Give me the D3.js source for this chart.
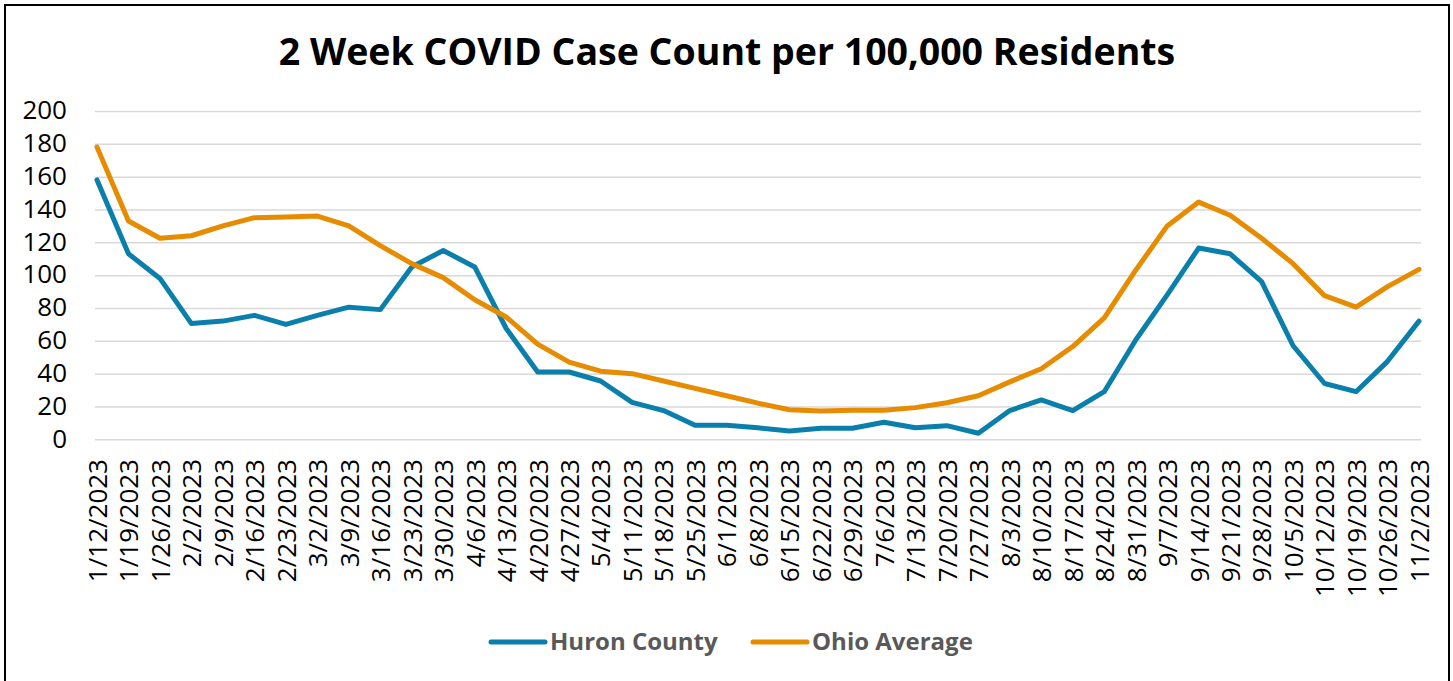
<!doctype html>
<html>
<head>
<script src="https://d3js.org/d3.v7.min.js"></script>
<style>
body { margin: 0; background: #fff; }
svg { display: block; font-family: "Open Sans", sans-serif; }
</style>
</head>
<body>
<svg></svg>
<script>

// weekly report dates
var dates = ["1/12/2023","1/19/2023","1/26/2023","2/2/2023","2/9/2023","2/16/2023","2/23/2023",
	"3/2/2023","3/9/2023","3/16/2023","3/23/2023","3/30/2023","4/6/2023","4/13/2023","4/20/2023",
	"4/27/2023","5/4/2023","5/11/2023","5/18/2023","5/25/2023","6/1/2023","6/8/2023","6/15/2023",
	"6/22/2023","6/29/2023","7/6/2023","7/13/2023","7/20/2023","7/27/2023","8/3/2023","8/10/2023",
	"8/17/2023","8/24/2023","8/31/2023","9/7/2023","9/14/2023","9/21/2023","9/28/2023","10/5/2023",
	"10/12/2023","10/19/2023","10/26/2023","11/2/2023"];

var huron = [158, 113, 98, 70.5, 72, 75.5, 70, 75.5, 80.5, 79, 105, 115, 105, 67.5, 41, 41,
	35.5, 22.5, 17.5, 8.5, 8.5, 7, 5, 6.7, 6.7, 10.4, 7, 8.3, 3.7, 17.5, 24, 17.5, 29,
	60.5, 88, 116.5, 113, 96, 57, 34, 29, 47.5, 72];

var ohio = [178, 133, 122.5, 124, 130, 135, 135.5, 136, 130, 118, 107, 98.5, 85, 74.5, 58,
	47, 41.5, 40, 35.5, 31, 26.5, 22, 18, 17.3, 17.7, 17.7, 19.3, 22.3, 26.5, 35, 43,
	56.5, 74, 103, 130, 144.5, 136.5, 122.5, 107, 87.5, 80.5, 93, 103.5];

var yTicks = [0, 20, 40, 60, 80, 100, 120, 140, 160, 180, 200];

var seriesNames = ["Huron County", "Ohio Average"];
var seriesColors = ["#0b7fac", "#e78b00"];

var W = 1453, H = 681;
var svg = d3.select("svg").attr("width", W).attr("height", H);

svg.append("rect")
	.attr("x", 0).attr("y", 0).attr("width", W).attr("height", H)
	.attr("fill", "#fff");

// outer border
svg.append("rect")
	.attr("x", 5).attr("y", 5).attr("width", 1444).attr("height", 690)
	.attr("fill", "none").attr("stroke", "#000").attr("stroke-width", 2);

svg.append("text")
	.attr("x", 727).attr("y", 65)
	.attr("text-anchor", "middle")
	.attr("font-size", 37.5).attr("font-weight", 700)
	.attr("fill", "#000")
	.text("2 Week COVID Case Count per 100,000 Residents");

var x = d3.scalePoint().domain(dates).range([97, 1419]).padding(0);
var y = d3.scaleLinear().domain([0, 200]).range([439.3, 111]);

// gridlines
var grid = svg.append("g")
	.attr("transform", "translate(95,0)")
	.call(d3.axisLeft(y).tickValues(yTicks).tickSize(-1326).tickFormat(""));
grid.select(".domain").remove();
grid.selectAll("line").attr("stroke", "#d9d9d9").attr("stroke-width", 1.5);

// y labels
var yAxis = svg.append("g")
	.attr("transform", "translate(67,0)")
	.call(d3.axisLeft(y).tickValues(yTicks).tickSize(0).tickPadding(0));
yAxis.select(".domain").remove();
yAxis.selectAll("text")
	.attr("font-family", "Open Sans")
	.attr("font-size", 26)
	.attr("fill", "#000")
	.attr("dy", "0.3em");

// x labels
var xAxis = svg.append("g")
	.attr("transform", "translate(0,459)")
	.call(d3.axisBottom(x).tickSize(0).tickPadding(0));
xAxis.select(".domain").remove();
xAxis.selectAll("text")
	.attr("font-family", "Open Sans")
	.attr("font-size", 26)
	.attr("fill", "#000")
	.attr("text-anchor", "end")
	.attr("transform", "rotate(-90)")
	.attr("x", 0).attr("y", 0)
	.attr("dy", "0.36em");

var line = d3.line()
	.x((d, i) => x(dates[i]))
	.y(d => y(d));

[huron, ohio].forEach(function(s, k) {
	svg.append("path")
		.datum(s)
		.attr("d", line)
		.attr("fill", "none")
		.attr("stroke", seriesColors[k])
		.attr("stroke-width", 5)
		.attr("stroke-linejoin", "round")
		.attr("stroke-linecap", "round");
});

// legend
var legendX = [491, 753];
var lg = svg.append("g");
seriesNames.forEach(function(n, k) {
	lg.append("line")
		.attr("x1", legendX[k]).attr("x2", legendX[k] + 54)
		.attr("y1", 642).attr("y2", 642)
		.attr("stroke", seriesColors[k])
		.attr("stroke-width", 5)
		.attr("stroke-linecap", "round");
	lg.append("text")
		.attr("x", legendX[k] + 59).attr("y", 650)
		.attr("font-size", 24).attr("font-weight", 700)
		.attr("fill", "#595959")
		.text(n);
});

</script>
</body>
</html>
